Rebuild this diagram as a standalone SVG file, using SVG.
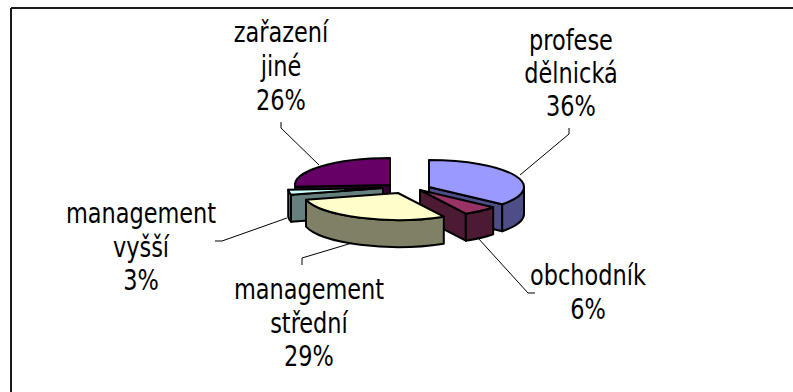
<svg xmlns="http://www.w3.org/2000/svg" width="793" height="392" viewBox="0 0 793 392">
  <style>
    .frame { stroke: #1a1a1a; stroke-width: 2; fill: none; }
    .face { stroke: #000; stroke-width: 2; stroke-linejoin: round; }
    .lead { stroke: #000; stroke-width: 1; fill: none; }
    .lbl { font-family: "DejaVu Sans Condensed", "DejaVu Sans", sans-serif; font-size: 29px; fill: #000; text-anchor: middle; }
    .t1 { fill: #9999FF; } .s1 { fill: #4D4D87; }
    .t2 { fill: #993366; } .s2 { fill: #4D1A33; }
    .t3 { fill: #FFFFCC; } .s3 { fill: #808066; }
    .t4 { fill: #CCFFFF; } .s4 { fill: #668080; }
    .t5 { fill: #660066; } .s5 { fill: #330033; }
  </style>

  <rect width="793" height="392" fill="#fff"/>
  <!-- chart area frame (top and left edges) -->
  <path class="frame" d="M11,8 H793 M11,8 V392"/>

  <!-- slices, drawn back to front -->
  <g id="slice-zarazeni-jine">
    <path class="face s5" d="M390,185 L295.2,186.7 L295.2,213.7 L390,212 Z"/>
    <path class="face t5" d="M390,185 L295.2,186.7 A95,27 0 0,1 390,158 Z"/>
  </g>

  <g id="slice-management-vyssi">
    <path class="face s4" d="M383,188 L291,194.7 L291,221.7 L383,215 Z"/>
    <path class="face s4" d="M291,194.7 A95,27 0 0,1 288.2,189.7 L288.2,216.7 A95,27 0 0,0 291,221.7 Z"/>
    <path class="face t4" d="M383,188 L291,194.7 A95,27 0 0,1 288.2,189.7 Z"/>
  </g>

  <g id="slice-profese-delnicka">
    <path class="face s1" d="M429,187 L502.2,204.2 L502.2,231.2 L429,214 Z"/>
    <path class="face s1" d="M524,187 A95,27 0 0,1 502.2,204.2 L502.2,231.2 A95,27 0 0,0 524,214 Z"/>
    <path class="face t1" d="M429,187 L429,160 A95,27 0 0,1 502.2,204.2 Z"/>
  </g>

  <g id="slice-obchodnik">
    <path class="face s2" d="M420,190 L465.8,213.7 L465.8,240.7 L420,217 Z"/>
    <path class="face s2" d="M493.2,207.2 A95,27 0 0,1 465.8,213.7 L465.8,240.7 A95,27 0 0,0 493.2,234.2 Z"/>
    <path class="face t2" d="M420,190 L493.2,207.2 A95,27 0 0,1 465.8,213.7 Z"/>
  </g>

  <g id="slice-management-stredni">
    <path class="face s3" d="M443.8,216.7 A95,27 0 0,1 306,199.7 L306,226.7 A95,27 0 0,0 443.8,243.7 Z"/>
    <path class="face t3" d="M398,193 L443.8,216.7 A95,27 0 0,1 306,199.7 Z"/>
  </g>

  <!-- leader lines -->
  <g id="connectors">
    <path class="lead" d="M569,128 V134 L520,175"/>
    <path class="lead" d="M281,122 V128 L319,165"/>
    <path class="lead" d="M215,241 H222 L287,218"/>
    <path class="lead" d="M302,265 V258 L352,243"/>
    <path class="lead" d="M478,238 L528,293 H535"/>
  </g>

  <!-- labels (narrowed glyphs) -->
  <g id="label-zarazeni-jine" class="lbl">
    <text transform="translate(281,42) scale(0.86,1)">zařazení</text>
    <text transform="translate(281,76) scale(0.86,1)">jiné</text>
    <text transform="translate(281,110) scale(0.86,1)">26%</text>
  </g>
  <g id="label-profese-delnicka" class="lbl">
    <text transform="translate(571,50) scale(0.86,1)">profese</text>
    <text transform="translate(571,83) scale(0.86,1)">dělnická</text>
    <text transform="translate(571,116) scale(0.86,1)">36%</text>
  </g>
  <g id="label-management-vyssi" class="lbl">
    <text transform="translate(141,223) scale(0.86,1)">management</text>
    <text transform="translate(141,257) scale(0.86,1)">vyšší</text>
    <text transform="translate(141,290) scale(0.86,1)">3%</text>
  </g>
  <g id="label-management-stredni" class="lbl">
    <text transform="translate(309,299) scale(0.86,1)">management</text>
    <text transform="translate(309,333) scale(0.86,1)">střední</text>
    <text transform="translate(309,366) scale(0.86,1)">29%</text>
  </g>
  <g id="label-obchodnik" class="lbl">
    <text transform="translate(588,285) scale(0.86,1)">obchodník</text>
    <text transform="translate(588,319) scale(0.86,1)">6%</text>
  </g>
</svg>
